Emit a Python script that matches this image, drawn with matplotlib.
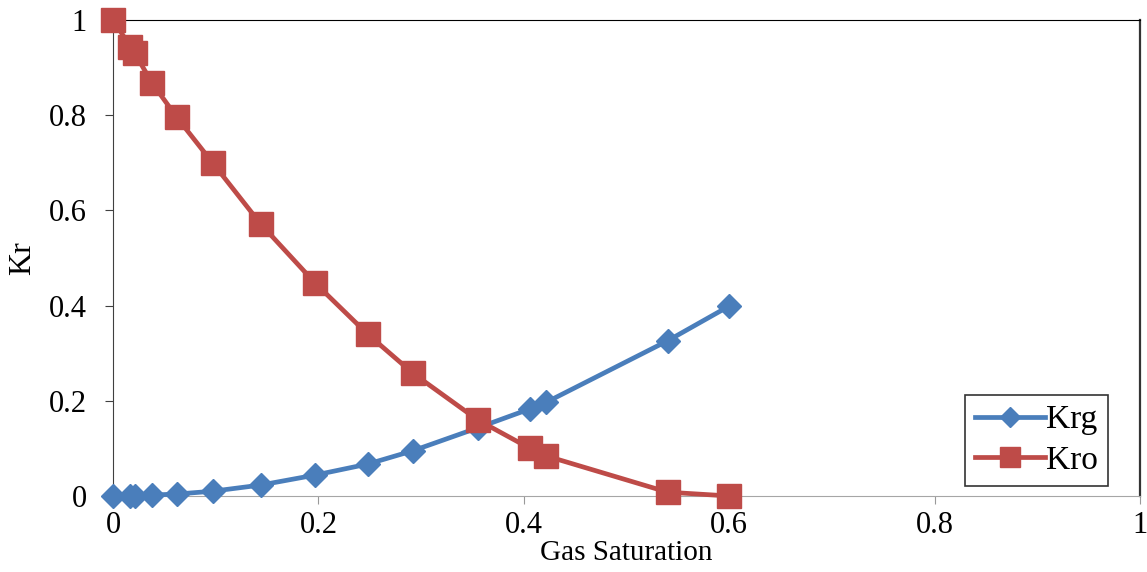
import matplotlib.pyplot as plt
from matplotlib.ticker import FuncFormatter

plt.rcParams["font.family"] = ["Liberation Serif", "DejaVu Serif"]

# Data

gas_saturation = [0.0, 0.017, 0.021, 0.038, 0.062, 0.097, 0.144, 0.197,
                  0.248, 0.292, 0.355, 0.406, 0.422, 0.540, 0.600]

krg = [0.0, 0.001, 0.001, 0.002, 0.004, 0.010, 0.023, 0.044,
       0.067, 0.095, 0.143, 0.183, 0.197, 0.326, 0.399]

kro = [1.0, 0.944, 0.931, 0.868, 0.796, 0.700, 0.571, 0.447,
       0.340, 0.258, 0.160, 0.100, 0.084, 0.008, 0.0]

blue = "#4A7EBB"
red = "#BE4B48"

fig = plt.figure(figsize=(11.47, 5.72), dpi=100)
ax = fig.add_axes([0.0985, 0.1329, 0.8954, 0.8321])

ax.plot(gas_saturation, krg, color=blue, lw=3.4, marker="D",
        markersize=12.5, label="Krg", zorder=3, clip_on=False)
ax.plot(gas_saturation, kro, color=red, lw=3.4, marker="s",
        markersize=17.5, label="Kro", zorder=4, clip_on=False)

ax.set_xlim(0, 1)
ax.set_ylim(0, 1)
ax.set_xticks([0, 0.2, 0.4, 0.6, 0.8, 1])
ax.set_yticks([0, 0.2, 0.4, 0.6, 0.8, 1])

fmt = FuncFormatter(lambda v, p: "%g" % round(v, 2))
ax.xaxis.set_major_formatter(fmt)
ax.yaxis.set_major_formatter(fmt)

ax.tick_params(axis="both", direction="out", length=6, labelsize=22)
ax.tick_params(axis="x", pad=5, color="#999999")
ax.tick_params(axis="y", pad=13, color="#404040")

ax.spines["top"].set_color("black")
ax.spines["right"].set_color("#333333")
ax.spines["right"].set_linewidth(1.6)
ax.spines["bottom"].set_color("#A6A6A6")
ax.spines["left"].set_color("#404040")

ax.set_xlabel("Gas Saturation", fontsize=21, labelpad=0)
ax.set_ylabel("Kr", fontsize=23, labelpad=8)

leg = ax.legend(loc="lower right", bbox_to_anchor=(0.969, 0.021),
                fontsize=24, frameon=True, fancybox=False,
                edgecolor="black", handlelength=2.1, borderpad=0.3,
                labelspacing=0.3, handletextpad=0.05, markerscale=0.85,
                borderaxespad=0)
leg.get_frame().set_linewidth(1.2)

fig.savefig("out.png", dpi=100)
